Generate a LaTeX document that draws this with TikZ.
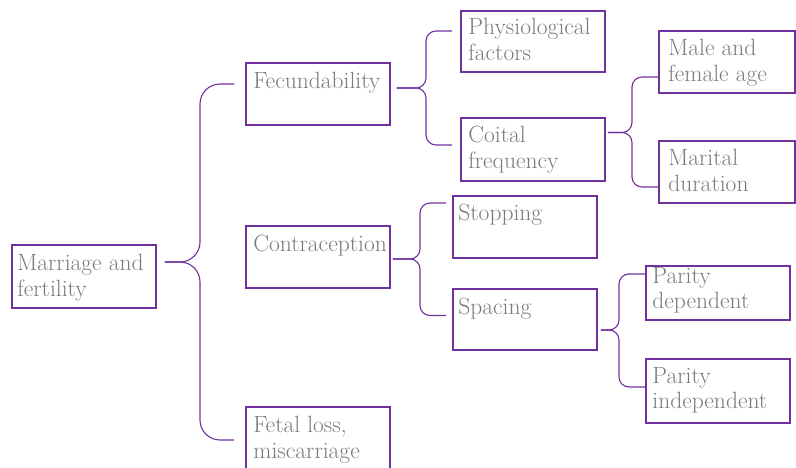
\documentclass[tikz,border=0pt]{standalone}
\usetikzlibrary{calc}
\definecolor{purp}{HTML}{7030A0}
\definecolor{txtgray}{HTML}{7A7A7A}
\begin{document}
\begin{tikzpicture}[x=1pt,y=-1pt,
  box/.style={draw=purp,line width=1.6pt,rectangle,inner sep=0pt,minimum width=144pt},
  txt/.style={anchor=north west,inner sep=0pt,align=left,text=txtgray,font=\fontsize{23.5}{25.5}\selectfont},
  conn/.style={draw=purp,line width=1.1pt},
  bigb/.style={conn,rounded corners=20pt},
  smallb/.style={conn,rounded corners=10pt}]
\useasboundingbox (0,0) rectangle (796,468);
% boxes
\node[box,minimum height=63pt] (mar) at (84,276.5) {};
\node[box,minimum height=62pt] (fec) at (318,94) {};
\node[box,minimum height=62pt] (con) at (318,257) {};
\node[box,minimum height=62pt] (fet) at (318,438) {};
\node[box,minimum height=61pt] (phy) at (533,41.5) {};
\node[box,minimum height=63pt] (coi) at (533,149.5) {};
\node[box,minimum height=62pt,minimum width=136pt] (mal) at (727,62) {};
\node[box,minimum height=62pt,minimum width=136pt] (mrt) at (727,172) {};
\node[box,minimum height=62pt] (stp) at (525,227) {};
\node[box,minimum height=61pt] (spa) at (525,319.5) {};
\node[box,minimum height=54pt] (pdep) at (718,293) {};
\node[box,minimum height=64pt] (pind) at (718,391) {};
% texts
\node[txt] (tmar) at ([shift={(6,10)}]mar.north west) {Marriage and\\fertility};
\node[txt] (tfec) at ([shift={(8,10)}]fec.north west) {Fecundability};
\node[txt] (tcon) at ([shift={(8,10)}]con.north west) {Contraception};
\node[txt] (tfet) at ([shift={(8,10)}]fet.north west) {Fetal loss,\\miscarriage};
\node[txt] (tphy) at ([shift={(8,8)}]phy.north west) {Physiological\\factors};
\node[txt] (tcoi) at ([shift={(8,9)}]coi.north west) {Coital\\frequency};
\node[txt] (tmal) at ([shift={(10,9)}]mal.north west) {Male and\\female age};
\node[txt] (tmrt) at ([shift={(10,9)}]mrt.north west) {Marital\\duration};
\node[txt] (tstp) at ([shift={(6,9)}]stp.north west) {Stopping};
\node[txt] (tspa) at ([shift={(6,10)}]spa.north west) {Spacing};
\node[txt] (tpdep) at ([shift={(7,2)}]pdep.north west) {Parity\\dependent};
\node[txt] (tpind) at ([shift={(7,9)}]pind.north west) {Parity\\independent};
% brace 1: marriage
\coordinate (k1) at ([shift={(8,-14.5)}]mar.east);
\coordinate (v1) at (200,0);
\coordinate (a1t) at ([shift={(-11,-10)}]fec.west);
\coordinate (a1b) at ([shift={(-11,2)}]fet.west);
\draw[bigb] (k1) -- (k1 -| v1) -- (v1 |- a1t) -- (a1t);
\draw[bigb] (k1) -- (k1 -| v1) -- (v1 |- a1b) -- (a1b);
% brace 2: fecundability
\coordinate (k2) at ([shift={(6,-6)}]fec.east);
\coordinate (v2) at (426,0);
\coordinate (a2t) at ([shift={(-8,-10.5)}]phy.west);
\coordinate (a2b) at ([shift={(-8,-4.5)}]coi.west);
\draw[smallb] (k2) -- (k2 -| v2) -- (v2 |- a2t) -- (a2t);
\draw[smallb] (k2) -- (k2 -| v2) -- (v2 |- a2b) -- (a2b);
% brace 3: coital
\coordinate (k3) at ([shift={(2,-17)}]coi.east);
\coordinate (v3) at (632,0);
\coordinate (a3t) at ([shift={(0,15)}]mal.west);
\coordinate (a3b) at ([shift={(0,15)}]mrt.west);
\draw[smallb] (k3) -- (k3 -| v3) -- (v3 |- a3t) -- (a3t);
\draw[smallb] (k3) -- (k3 -| v3) -- (v3 |- a3b) -- (a3b);
% brace 4: contraception
\coordinate (k4) at ([shift={(2,2)}]con.east);
\coordinate (v4) at (420,0);
\coordinate (a4t) at ([shift={(-6,-24)}]stp.west);
\coordinate (a4b) at ([shift={(-6,-4)}]spa.west);
\draw[smallb] (k4) -- (k4 -| v4) -- (v4 |- a4t) -- (a4t);
\draw[smallb] (k4) -- (k4 -| v4) -- (v4 |- a4b) -- (a4b);
% brace 5: spacing
\coordinate (k5) at ([shift={(3,10.5)}]spa.east);
\coordinate (v5) at (619,0);
\coordinate (a5t) at ([shift={(0,-19)}]pdep.west);
\coordinate (a5b) at ([shift={(0,-4)}]pind.west);
\draw[smallb] (k5) -- (k5 -| v5) -- (v5 |- a5t) -- (a5t);
\draw[smallb] (k5) -- (k5 -| v5) -- (v5 |- a5b) -- (a5b);
\end{tikzpicture}
\end{document}
